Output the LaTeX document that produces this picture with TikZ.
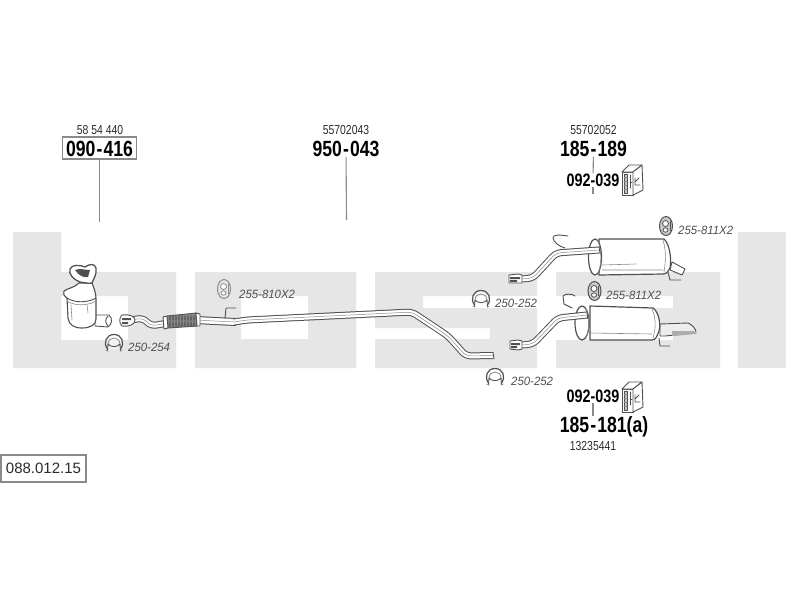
\documentclass[tikz,border=0pt]{standalone}
\usepackage{fontspec}
\setmainfont{Liberation Sans}
\newfontfamily\cnfont[FakeStretch=0.8]{Liberation Sans}
\newfontfamily\itfont[FakeStretch=0.95]{Liberation Sans}
\definecolor{logo}{HTML}{E6E6E6}
\definecolor{ink}{HTML}{2A2A2A}
\definecolor{edge}{HTML}{505050}
\definecolor{soft}{HTML}{8A8A8A}
\tikzset{
  smallno/.style={text=ink,font=\cnfont\fontsize{13}{13}\selectfont,inner sep=0pt},
  bigno/.style={text=black,font=\cnfont\bfseries\fontsize{22}{22}\selectfont,inner sep=0pt},
  midno/.style={text=black,font=\cnfont\bfseries\fontsize{18}{18}\selectfont,inner sep=0pt},
  partlabel/.style={text=edge,font=\itfont\itshape\fontsize{12}{12}\selectfont,inner sep=0pt,anchor=west},
  leader/.style={draw=soft,line width=1.1pt},
  frame/.style={draw=soft,line width=1.5pt,fill=white},
  part/.style={draw=edge,line width=.9pt,line join=round,line cap=round},
  thinpart/.style={draw=soft,line width=.6pt,line join=round,line cap=round},
  hanger/.style={draw=edge,line width=.9pt,line join=round,line cap=round},
}
\newcommand{\tube}[2]{%
  \draw[line width=#1pt,draw=edge,line join=round,line cap=butt,rounded corners=5pt] #2;
  \draw[line width=#1pt-2pt,draw=white,line join=round,line cap=butt,rounded corners=5pt] #2;
  \draw[line width=.5pt,draw=soft,rounded corners=5pt] #2;}
\newcommand{\clampicon}[2]{%
  \begin{scope}[shift={(#1,#2)}]
    \draw[part,line width=1.2pt,fill=white,fill opacity=.5] (-6.5,6) .. controls (-11,0) and (-8,-8.5) .. (0,-8.5) .. controls (8,-8.5) and (11,0) .. (6.5,6);
    \draw[thinpart,line width=.8pt] (-6,1) .. controls (-6,-7) and (6,-7) .. (6,1);
    \draw[part] (-6.5,8) -- (-6,1) .. controls (-3,4.5) and (3,4.5) .. (6,1) -- (6.5,8);
    \draw[thinpart] (-8.5,7) -- (-6,8) (8.5,7) -- (6,8);
  \end{scope}}
\newcommand{\ringicon}[4]{%
  \begin{scope}[shift={(#1,#2)}]
    \draw[draw=#3,fill=#4,line width=1pt] (0,0) ellipse (6.5 and 9.5);
    \draw[draw=#3,fill=white,line width=.8pt] (-.5,-2.5) ellipse (3 and 3);
    \draw[draw=#3,fill=white,line width=.8pt] (-.5,4) ellipse (2.5 and 2.2);
    \draw[draw=#3,line width=.7pt] (4,-5) -- (4,5);
  \end{scope}}
\newcommand{\bracketicon}[2]{%
  \begin{scope}[shift={(#1,#2)}]
    \draw[part,fill=white] (-10,-8) -- (1,-8) -- (1,15) -- (-10,15) -- cycle;
    \draw[part,fill=white] (-10,-8) -- (-3,-15) -- (10,-15) -- (1,-8) -- cycle;
    \draw[part,fill=white] (1,-8) -- (10,-15) -- (11,10) -- (1,15) -- cycle;
    \draw[part,fill=soft!50] (-8,-6) rectangle (-5,13);
    \draw[part] (-2,-5) -- (-2,8) (-2,2) -- (0,2);
    \draw[part] (3,-2) -- (3,5) -- (8,5) (3,2) -- (7,-2);
    \draw[thinpart] (-8,-3) -- (-5,-3) (-8,1) -- (-5,1) (-8,5) -- (-5,5) (-8,9) -- (-5,9);
  \end{scope}}
\begin{document}
\begin{tikzpicture}[x=1pt,y=-1pt]
\useasboundingbox (0,0) rectangle (800,600);
\fill[white] (0,0) rectangle (800,600);
% logo
\fill[logo,even odd rule] (13,232) -- (61,232) -- (61,272) -- (176,272) -- (176,368) -- (13,368) -- cycle
   (61,296) rectangle (128,340);
\fill[logo,even odd rule] (195,272) rectangle (356,368) (241,296) rectangle (308,339);
\fill[logo] (375,272) -- (537,272) -- (537,296) -- (423,296) -- (423,308) -- (537,308) -- (537,368) -- (375,368) -- (375,339) -- (490,339) -- (490,328) -- (375,328) -- cycle;
\fill[logo] (556,272) -- (720,272) -- (720,368) -- (556,368) -- (556,340) -- (673,340) -- (673,328) -- (604,328) -- (604,308) -- (673,308) -- (673,296) -- (556,296) -- cycle;
\fill[logo] (738,232) rectangle (786,368);
% catalyst
\draw[part,fill=white] (95,315) -- (109,315) .. controls (113,318) and (112,325) .. (108,327) -- (95,326) -- cycle;
\draw[part] (108,316) .. controls (105,319) and (105,323) .. (108,326);
\draw[part,line width=1.1pt,fill=white] (67,298) .. controls (65,296) and (63,296) .. (64,291) .. controls (68,288) and (74,288) .. (79,283) -- (92,283) .. controls (94,288) and (96,293) .. (96,299) -- (96,319) .. controls (96,325) and (90,328) .. (82,328) .. controls (74,328) and (69,325) .. (68,318) -- cycle;
\draw[part] (67,298) .. controls (74,303) and (88,303) .. (96,298);
\draw[thinpart] (67,301) .. controls (74,306) and (88,306) .. (96,301);
\draw[thinpart] (87,304) -- (88,313) (71,305) -- (72,320);
\draw[part,line width=1.3pt,fill=white] (70,269) .. controls (72,264) and (80,265) .. (85,267) .. controls (89,264) and (95,263) .. (96,268) .. controls (97,274) and (94,278) .. (92,283) .. controls (87,284) and (84,282) .. (80,282) .. controls (74,280) and (68,274) .. (70,269) -- cycle;
\fill[edge] (75,270) .. controls (80,268) and (85,270) .. (90,270) -- (88,277) .. controls (84,278) and (79,276) .. (75,270) -- cycle;
% intermediate pipe with flex
\tube{7}{(131,320) -- (143,318) -- (151,326) -- (168,323)}
\draw[part,fill=white] (122,315) .. controls (131,314) and (135,317) .. (135,320) .. controls (135,324) and (130,327) .. (122,326) .. controls (119,324) and (119,317) .. (122,315) -- cycle;
\fill[edge] (122,318) rectangle (131,320) (122,322) rectangle (128,324);
\tube{8}{(197,320) -- (214,321) -- (236,322)}
\draw[part,fill=soft] (167,316) -- (196,313) -- (197,326) -- (168,328) -- cycle;
\foreach \k in {169,172,...,194} {\draw[edge,line width=.5pt] (\k,315.5) -- (\k+2,327) (\k+2,315.5) -- (\k,327);}
\draw[part,fill=white] (163,317) -- (167,316) -- (168,328) -- (164,329) -- cycle;
\draw[part,fill=white] (196,313) -- (200,314) -- (200,326) -- (197,326) -- cycle;
\draw[hanger] (225,318) -- (226,308) -- (236,308);
\tube{7}{(234,322) -- (247,320) -- (412,312) -- (448,336) -- (466,356) -- (493,355.5)}
\draw[part] (493,352) -- (494,359);
% upper rear silencer
\draw[hanger] (568,236) .. controls (560,235) and (553,234) .. (553,238) .. controls (554,242) and (558,246) .. (565,248);
\draw[part,fill=white] (672,262) -- (685,269) -- (682,275) -- (670,270) -- cycle;
\draw[hanger] (668,272) -- (670,280) -- (681,280);
\draw[part,line width=1.2pt,fill=white] (599,239) -- (664,239) .. controls (669,243) and (672,258) .. (670,268) .. controls (668,271) and (667,274) .. (663,274) -- (599,275) -- cycle;
\draw[part,line width=1.2pt,fill=white] (595,257) ellipse (6.5 and 18);
\draw[thinpart] (597.5,240) .. controls (602,250) and (602,266) .. (597.5,274);
\draw[thinpart] (602,265) -- (636,264) (602,270) -- (663,270);
\draw[thinpart] (663,240) .. controls (666,250) and (666,260) .. (664,272);
\tube{7}{(522,279) -- (533,278) -- (556,253) -- (599,250)}
\draw[part] (599,246.5) -- (600,253.5);
\draw[part,fill=white] (509,275) -- (518,274) -- (522,275) -- (522,283) -- (518,283) -- (509,283) -- cycle;
\fill[edge] (510,277) rectangle (520,279) (510,280) rectangle (517,282);
% lower rear silencer
\draw[hanger] (575,296) .. controls (572,293) and (564,294) .. (563,296) -- (564,304) -- (572,308);
\draw[part,fill=white!85!soft] (660,324) -- (688,323) .. controls (692,325) and (696,328) .. (696,333) -- (665,336) -- (660,336) -- cycle;
\fill[soft!70] (672,331) -- (696,331) -- (696,334) -- (672,336) -- cycle;
\draw[hanger] (659,338) -- (660,346) -- (670,346);
\draw[part,line width=1.2pt,fill=white] (590,306) -- (653,308) .. controls (659,312) and (661,325) .. (659,331) .. controls (657,336) and (656,340) .. (652,340) -- (590,340) -- cycle;
\draw[part,line width=1.2pt,fill=white] (582,323) ellipse (7 and 17);
\draw[thinpart] (585,306.5) .. controls (590,316) and (590,332) .. (585,339.5);
\draw[thinpart] (590,333) -- (652,334);
\draw[thinpart] (652,309) .. controls (656,318) and (656,328) .. (653,338);
\tube{7}{(522,345) -- (533,344) -- (558,318) -- (587,315)}
\draw[part] (587,311.5) -- (587.5,318.5);
\draw[part,fill=white] (510,341) -- (518,340) -- (522,341) -- (522,349) -- (518,350) -- (510,349) -- cycle;
\fill[edge] (511,343) rectangle (520,345) (511,346) rectangle (517,348);
% mounts and clamps
\clampicon{114}{343}
\clampicon{481}{299}
\clampicon{495}{377}
\ringicon{224}{289}{soft}{logo}
\ringicon{594.5}{291}{edge}{soft!45}
\ringicon{666}{226}{edge}{soft!45}
\bracketicon{632}{180}
\bracketicon{632}{397}
% part numbers
\node[smallno] (ref1) at (100,130) {58 54 440};
\node[frame,minimum width=74pt,minimum height=22pt,inner sep=0pt] (box1) at (99.5,148) {};
\node[bigno] (num1) at (99.5,148.5) {090{\kern1.2pt}-{\kern1.2pt}416};
\coordinate (end1) at (99.5,222);
\draw[leader] (box1) -- (end1);
\node[smallno] (ref2) at (346,130) {55702043};
\node[bigno] (num2) at (346,149) {950{\kern1.2pt}-{\kern1.2pt}043};
\coordinate (end2) at (346.5,220);
\draw[leader] (num2) -- (end2);
\node[smallno] (ref3) at (593.5,130) {55702052};
\node[bigno] (num3) at (593.5,149) {185{\kern1.2pt}-{\kern1.2pt}189};
\node[midno] (num4) at (593,180) {092-039};
\coordinate (end3) at (593,194);
\draw[leader] (num3) -- (num4);
\draw[leader] (num4) -- (end3);
\node[midno] (num5) at (593,396) {092-039};
\node[bigno] (num6) at (604,427) {185{\kern1.2pt}-{\kern1.2pt}181(a)};
\coordinate (join6) at (593,416);
\draw[leader] (num5) -- (join6);
\node[smallno] (ref6) at (593,446) {13235441};
% labels
\node[partlabel] (l1) at (128,347) {250-254};
\node[partlabel] (l2) at (239,294) {255-810X2};
\node[partlabel] (l3) at (495,303) {250-252};
\node[partlabel] (l4) at (511,381) {250-252};
\node[partlabel] (l5) at (678,230) {255-811X2};
\node[partlabel] (l6) at (606,295) {255-811X2};
% code box
\node[frame,minimum width=85pt,minimum height=27pt,inner sep=0pt,text=ink,font=\fontsize{15}{15}\selectfont] (code) at (43.5,468.5) {088.012.15};
\end{tikzpicture}
\end{document}
